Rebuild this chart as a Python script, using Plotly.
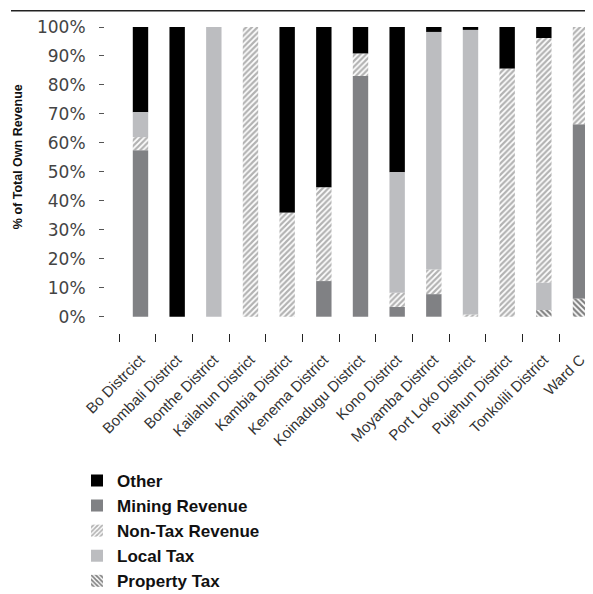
import plotly.graph_objects as go

# ---------------- data ----------------
districts = ["Bo Distrcict", "Bombali District", "Bonthe District", "Kailahun District",
             "Kambia District", "Kenema District", "Koinadugu District", "Kono District",
             "Moyamba District", "Port Loko District", "Pujehun District",
             "Tonkolili District", "Ward C"]
property_tax = [0, 0, 0, 0, 0, 0, 0, 0, 0, 0, 0, 2.3, 6.2]
mining_revenue = [57.5, 0, 0, 0, 0, 12.3, 83.1, 3.4, 7.8, 0, 0, 0, 60.2]
non_tax_revenue = [4.5, 0, 0, 100, 35.9, 32.3, 7.7, 4.9, 8.5, 0.8, 85.6, 84.5, 33.6]
local_tax = [8.6, 0, 100, 0, 0, 0, 0, 41.6, 82.0, 98.2, 0, 9.4, 0]
other = [29.4, 100, 0, 0, 64.1, 55.4, 9.2, 50.1, 1.7, 1.0, 14.4, 3.8, 0]
y_ticks = [0, 10, 20, 30, 40, 50, 60, 70, 80, 90, 100]
y_tick_labels = [f"{v}%" for v in y_ticks]

series = {
    "Other": other,
    "Mining Revenue": mining_revenue,
    "Non-Tax Revenue": non_tax_revenue,
    "Local Tax": local_tax,
    "Property Tax": property_tax,
}
# stacking order bottom -> top
default_order = ["Property Tax", "Mining Revenue", "Non-Tax Revenue", "Local Tax", "Other"]
order_override = {"Tonkolili District": ["Property Tax", "Local Tax", "Non-Tax Revenue",
                                         "Mining Revenue", "Other"]}

styles = {
    "Other": dict(color="#000000"),
    "Mining Revenue": dict(color="#808184"),
    "Non-Tax Revenue": dict(color="#ffffff",
                            pattern=dict(shape="/", fgcolor="#666666", bgcolor="#ffffff",
                                         size=4, solidity=0.55)),
    "Local Tax": dict(color="#bcbdc0"),
    "Property Tax": dict(color="#ffffff",
                         pattern=dict(shape="\\", fgcolor="#000000", bgcolor="#ffffff",
                                      size=4, solidity=0.55)),
}

# compute bases
bases = {k: [0.0] * len(districts) for k in series}
for i, d in enumerate(districts):
    acc = 0.0
    for k in order_override.get(d, default_order):
        bases[k][i] = acc
        acc += series[k][i]

xpos = list(range(len(districts)))

fig = go.Figure()
for name in ["Other", "Mining Revenue", "Non-Tax Revenue", "Local Tax", "Property Tax"]:
    fig.add_trace(go.Bar(
        x=xpos, y=series[name], base=bases[name], name=name,
        width=0.42,
        marker=dict(line=dict(width=0), **styles[name]),
    ))

# page body adds an 8px offset; figure coordinates below are page coords - 8
W, H = 585, 586
PL, PR, PT, PB = 97, 0, 18.7, 261
pw = W - PL - PR
ph = H - PT - PB


def px_y(y):
    return (H - PB - y) / ph


def px_x(x):
    return (x - PL) / pw


fig.update_layout(
    width=W, height=H,
    margin=dict(l=PL, r=PR, t=PT, b=PB, pad=0, autoexpand=False),
    barmode="overlay",
    plot_bgcolor="white", paper_bgcolor="white",
    font=dict(family="Liberation Sans, Arial, sans-serif", color="#333333"),
    xaxis=dict(
        range=[-0.968, 12.341], automargin=False,
        tickmode="array", tickvals=xpos, ticktext=districts,
        tickangle=-45, tickfont=dict(size=15, color="#333333"),
        ticks="outside", ticklen=11, tickcolor="rgba(0,0,0,0)",
        ticklabeloverflow="allow",
        minor=dict(tickmode="array", tickvals=[p - 0.578 for p in xpos],
                   ticks="outside", ticklen=8, tickcolor="#222222", tickwidth=1),
        showgrid=False, zeroline=False, showline=False,
    ),
    yaxis=dict(
        range=[-5.62, 100], automargin=False,
        tickmode="array", tickvals=y_ticks, ticktext=y_tick_labels,
        tickfont=dict(family="DejaVu Sans, sans-serif", size=17, color="#444444"),
        ticks="outside", ticklen=5, tickcolor="#555555", tickwidth=1,
        ticklabelstandoff=10,
        showgrid=False, zeroline=False, showline=False,
    ),
    showlegend=True,
    legend=dict(
        x=px_x(69), y=px_y(455), xanchor="left", yanchor="top",
        font=dict(family="Liberation Sans, Arial, sans-serif",
                  size=17, color="#111111", weight="bold"),
        traceorder="normal", tracegroupgap=0, bgcolor="rgba(0,0,0,0)",
    ),
    annotations=[dict(
        text="<b>% of Total Own Revenue</b>", textangle=-90,
        xref="paper", yref="paper",
        x=px_x(10), y=px_y(149),
        xanchor="center", yanchor="middle", showarrow=False,
        font=dict(family="Liberation Sans, Arial, sans-serif",
                  size=12.5, color="#111111"),
    )],
    shapes=[dict(
        type="line", xref="paper", yref="paper",
        x0=px_x(3), x1=1.0, y0=px_y(2.5), y1=px_y(2.5),
        line=dict(color="#222222", width=1.5),
    )],
)

fig.write_html("out.html")
